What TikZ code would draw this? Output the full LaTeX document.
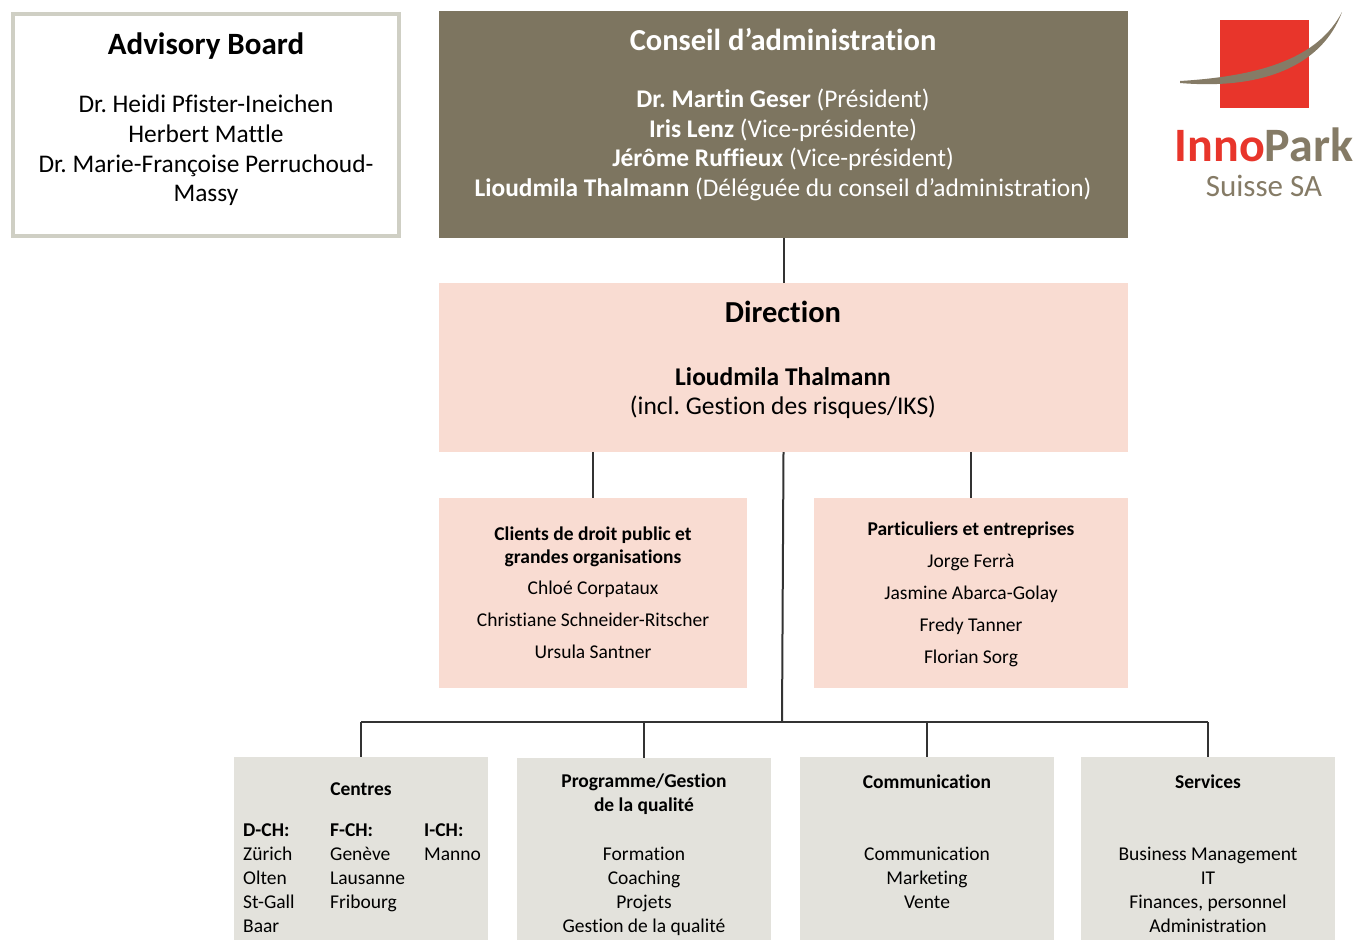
\documentclass[tikz,border=0pt]{standalone}
\usepackage{fontspec}
\setmainfont{Carlito}[Ligatures=NoCommon]
\usetikzlibrary{positioning,calc}

\definecolor{council}{HTML}{7D7560}
\definecolor{dirpink}{HTML}{F9DCD2}
\definecolor{unitgray}{HTML}{E3E2DC}
\definecolor{advborder}{HTML}{CFCFC4}
\definecolor{logored}{HTML}{E8352B}
\definecolor{logobrown}{HTML}{857B66}
\definecolor{linegray}{HTML}{333333}

\tikzset{
  orgbox/.style={rectangle, draw=none, inner sep=0pt},
  conn/.style={draw=linegray, line width=2pt},
  txt/.style={inner sep=0pt, align=center},
  bodytxt/.style={txt, font=\fontsize{19.5}{24}\selectfont},
  headtxt/.style={txt, font=\fontsize{19.5}{23}\selectfont\bfseries}
}

\begin{document}
\frenchspacing
\begin{tikzpicture}[x=1pt,y=-1pt]

    \useasboundingbox (0,0) rectangle (1359,940);

    % advisory board
    \node[orgbox, draw=advborder, line width=4pt, minimum width=386pt, minimum height=222pt] (advisory) at (206,125) {};
    \node[txt, font=\fontsize{31}{32}\selectfont\bfseries] (advisory_title) at (206,46) {Advisory Board};
    \node[txt, font=\fontsize{25.4}{29.7}\selectfont, anchor=north] (advisory_names) at (206,95)
        {Dr. Heidi Pfister-Ineichen\\Herbert Mattle\\Dr. Marie-Françoise Perruchoud-\\Massy};

    % conseil
    \node[orgbox, fill=council, minimum width=689pt, minimum height=227pt] (conseil) at (783.5,124.5) {};
    \node[txt, text=white, font=\fontsize{30.5}{32}\selectfont\bfseries] (conseil_title) at (783,40) {Conseil d’administration};
    \node[txt, text=white, font=\fontsize{25.4}{29.5}\selectfont, anchor=north] (conseil_names) at (783,89)
        {\textbf{Dr. Martin Geser} (Président)\\
         \textbf{Iris Lenz} (Vice-présidente)\\
         \textbf{Jérôme Ruffieux} (Vice-président)\\
         \textbf{Lioudmila Thalmann} (Déléguée du conseil d’administration)};

    % logo
    \node[orgbox, fill=logored, minimum width=89pt, minimum height=88pt] (logo_square) at (1264.5,64) {};
    \fill[logobrown] (1180,81) .. controls (1262,76) and (1318,58) .. (1342,12)
        .. controls (1322,66) and (1262,90) .. (1180,83) -- cycle;
    \node[txt, text height=31pt, text depth=0pt, anchor=base, font=\fontsize{48}{48}\selectfont\bfseries] (logo_name) at (1264,161)
        {\textcolor{logored}{Inno}\textcolor{logobrown}{Park}};
    \node[txt, text height=20pt, text depth=0pt, anchor=base, text=logobrown, font=\fontsize{31}{31}\selectfont] (logo_sub) at (1264,196) {Suisse SA};

    % direction
    \node[orgbox, fill=dirpink, minimum width=689pt, minimum height=169pt] (direction) at (783.5,367.5) {};
    \node[txt, font=\fontsize{30.5}{32}\selectfont\bfseries] (direction_title) at (783,312) {Direction};
    \node[txt, font=\fontsize{25.5}{29}\selectfont, anchor=north] (direction_head) at (783,367)
        {\textbf{Lioudmila Thalmann}\\(incl. Gestion des risques/IKS)};

    % clients
    \node[orgbox, fill=dirpink, minimum width=308pt, minimum height=190pt] (clients) at (593,593) {};
    \node[headtxt, anchor=north] (clients_title) at (593,527) {Clients de droit public et\\grandes organisations};
    \node[bodytxt, font=\fontsize{19.5}{32}\selectfont, anchor=north] (clients_names) at (593,581)
        {Chloé Corpataux\\Christiane Schneider-Ritscher\\Ursula Santner};

    % particuliers
    \node[orgbox, fill=dirpink, minimum width=314pt, minimum height=190pt] (particuliers) at (971,593) {};
    \node[headtxt] (part_title) at (971,530) {Particuliers et entreprises};
    \node[bodytxt, font=\fontsize{19.5}{32}\selectfont, anchor=north] (part_names) at (971,554)
        {Jorge Ferrà\\Jasmine Abarca-Golay\\Fredy Tanner\\Florian Sorg};

    % bottom units
    \node[orgbox, fill=unitgray, minimum width=254pt, minimum height=183pt] (centres) at (361,848.5) {};
    \node[orgbox, fill=unitgray, minimum width=254pt, minimum height=182pt] (programme) at (644,849) {};
    \node[orgbox, fill=unitgray, minimum width=254pt, minimum height=183pt] (communication) at (927,848.5) {};
    \node[orgbox, fill=unitgray, minimum width=254pt, minimum height=183pt] (services) at (1208,848.5) {};

    \node[headtxt] (centres_title) at (361,789) {Centres};
    \node[bodytxt, align=left, anchor=north west] (dch) at (243,823) {\textbf{D-CH:}\\Zürich\\Olten\\St-Gall\\Baar};
    \node[bodytxt, align=left, anchor=north west] (fch) at (330,823) {\textbf{F-CH:}\\Genève\\Lausanne\\Fribourg};
    \node[bodytxt, align=left, anchor=north west] (ich) at (424,823) {\textbf{I-CH:}\\Manno};

    \node[headtxt, font=\fontsize{19.5}{24}\selectfont\bfseries, anchor=north] (programme_title) at (644,774) {Programme/Gestion\\de la qualité};
    \node[bodytxt, anchor=north] (programme_list) at (644,847) {Formation\\Coaching\\Projets\\Gestion de la qualité};

    \node[headtxt] (comm_title) at (927,782) {Communication};
    \node[bodytxt, anchor=north] (comm_list) at (927,847) {Communication\\Marketing\\Vente};

    \node[headtxt] (services_title) at (1208,782) {Services};
    \node[bodytxt, anchor=north] (services_list) at (1208,847) {Business Management\\IT\\Finances, personnel\\Administration};

    % connectors
    \coordinate (bus_mid) at (782,722);
    \coordinate (bus_left) at (361,722);
    \coordinate (bus_right) at (1208,722);

    \draw[conn] (conseil.south) -- (direction.north);
    \draw[conn] (direction.south -| clients.north) -- (clients.north);
    \draw[conn] (direction.south -| particuliers.north) -- (particuliers.north);
    \draw[conn] (direction.south) -- (bus_mid);
    \draw[conn] (bus_left) -- (bus_right);
    \draw[conn] (bus_left) -- (centres.north);
    \draw[conn] (bus_left -| programme.north) -- (programme.north);
    \draw[conn] (bus_left -| communication.north) -- (communication.north);
    \draw[conn] (bus_right) -- (services.north);
\end{tikzpicture}
\end{document}
